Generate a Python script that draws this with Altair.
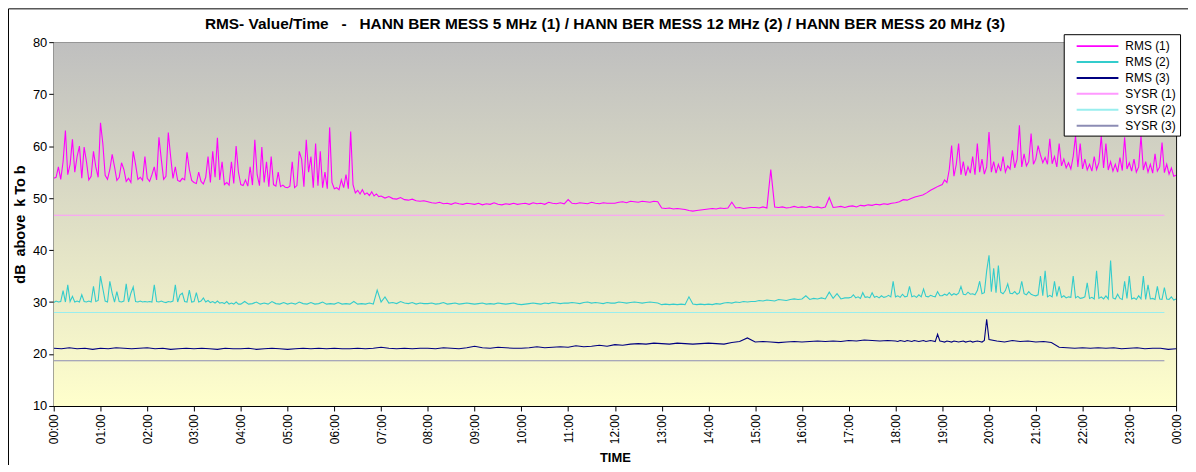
import altair as alt
import pandas as pd

# ---------------- data ----------------
SERIES = ["RMS (1)", "RMS (2)", "RMS (3)", "SYSR (1)", "SYSR (2)", "SYSR (3)"]
COLORS = ["#ff00ff", "#33cccc", "#000080", "#ff99ff", "#99eeee", "#8c8cb4"]

# RMS (1): one row per hour, samples evenly spaced inside the hour
RMS1_BY_HOUR = [
    [53.8, 54.0, 56.0, 53.6, 57.0, 63.0, 54.5, 56.5, 61.3, 55.0,
     58.0, 60.0, 53.8, 59.8, 57.0, 53.5, 54.2, 59.0, 56.0, 54.0],
    [64.5, 60.5, 54.4, 53.6, 55.5, 58.4, 56.0, 53.4, 54.0, 56.8,
     55.5, 53.2, 53.8, 53.0, 59.0, 56.5, 53.6, 54.0, 53.4, 58.0],
    [53.8, 53.2, 54.5, 56.0, 53.5, 61.7, 57.5, 53.6, 54.2, 62.6,
     58.0, 53.8, 56.0, 53.4, 53.2, 53.8, 53.5, 58.8, 55.5, 53.4],
    [53.0, 52.8, 55.0, 53.2, 52.7, 54.0, 58.0, 53.0, 59.0, 54.0,
     61.6, 53.5, 57.0, 52.6, 53.0, 52.5, 57.0, 52.8, 60.0, 55.0],
    [52.6, 52.4, 53.5, 52.3, 56.0, 52.5, 61.2, 54.5, 52.4, 59.8,
     53.0, 57.0, 52.2, 58.0, 52.6, 52.3, 55.0, 52.2, 52.5, 52.1],
    [52.0, 52.3, 57.0, 52.0, 52.4, 59.0, 57.5, 52.2, 61.2, 55.0,
     58.0, 52.0, 60.5, 52.4, 59.0, 52.0, 55.0, 51.8, 63.6, 53.0],
    [51.8, 52.0, 51.6, 53.5, 52.0, 54.5, 51.8, 62.8, 52.6, 51.0,
     51.5, 50.8, 51.6, 50.7, 51.0, 50.5, 51.2, 50.4, 50.8, 50.3],
    [50.4, 50.0, 50.3, 49.9, 49.8, 50.1, 49.7, 49.6, 49.8, 49.5, 49.4, 49.5],
    [49.3, 49.1, 49.0, 49.2, 48.9, 49.0, 48.8, 49.1, 48.9, 48.8, 49.0, 48.9],
    [48.8, 49.0, 48.7, 48.9, 48.8, 49.1, 48.8, 48.7, 48.9, 48.8, 49.0, 48.8],
    [48.9, 49.0, 48.8, 49.1, 48.9, 49.0, 48.8, 49.2, 49.0, 48.9, 49.1, 48.9],
    [49.7, 49.0, 48.9, 49.1, 49.0, 48.9, 49.2, 49.0, 48.9, 49.1, 49.0, 49.0],
    [49.0, 49.2, 49.3, 49.1, 49.4, 49.3, 49.2, 49.4, 49.3, 49.2, 49.4, 49.3],
    [48.1, 48.0, 48.1, 47.9, 48.0, 47.9, 47.8, 47.6, 47.5, 47.6, 47.7, 47.8],
    [47.9, 48.0, 47.9, 48.1, 48.0, 48.1, 49.2, 48.1, 48.2, 48.0, 48.1, 48.2],
    [48.2, 48.1, 48.3, 48.1, 55.5, 48.3, 48.2, 48.3, 48.1, 48.2, 48.4, 48.2],
    [48.3, 48.2, 48.4, 48.2, 48.3, 48.1, 48.3, 50.1, 48.2, 48.3, 48.4, 48.2],
    [48.4, 48.5, 48.3, 48.6, 48.5, 48.7, 48.6, 48.8, 48.7, 48.9, 48.8, 49.0],
    [49.1, 49.3, 49.7, 49.6, 49.9, 50.2, 50.4, 50.6, 51.0, 51.5, 51.9, 52.3],
    [52.6, 53.5, 53.0, 55.5, 60.1, 54.2, 56.5, 60.5, 54.5, 57.0,
     54.3, 56.0, 54.8, 58.0, 54.5, 60.5, 55.0, 57.5, 54.6, 56.0],
    [62.7, 55.0, 57.0, 54.8, 56.5, 55.2, 58.0, 55.0, 56.2, 55.6,
     59.2, 55.8, 57.5, 64.0, 56.0, 58.5, 56.2, 57.0, 62.4, 56.5],
    [57.5, 60.1, 58.3, 56.8, 57.8, 56.5, 61.4, 56.6, 58.0, 56.0,
     60.5, 56.2, 57.5, 55.8, 56.8, 55.6, 58.0, 62.0, 56.0, 60.5],
    [55.6, 57.5, 55.4, 56.5, 55.2, 58.0, 55.5, 56.8, 62.0, 55.8,
     60.5, 55.4, 57.0, 55.2, 56.5, 55.0, 57.8, 55.3, 61.7, 55.6],
    [56.8, 55.2, 57.5, 55.0, 56.0, 62.0, 55.4, 57.0, 55.0, 56.5,
     54.8, 58.5, 55.2, 56.0, 60.7, 54.9, 56.5, 54.6, 55.8, 54.2],
]
RMS1_END = 54.4

# RMS (2)
RMS2_BY_HOUR = [
    [29.9, 30.2, 30.0, 30.1, 32.2, 30.0, 33.3, 30.1, 31.1, 30.0,
     30.2, 30.0, 31.4, 30.1, 30.0, 30.2, 30.0, 33.0, 30.1, 30.3],
    [35.0, 32.6, 30.2, 30.0, 34.0, 31.7, 30.0, 32.0, 30.1, 30.0,
     30.2, 33.5, 30.0, 31.7, 32.9, 30.1, 30.0, 30.2, 30.0, 30.1],
    [30.0, 30.1, 30.0, 33.3, 30.1, 30.0, 30.2, 30.0, 29.9, 30.1,
     30.0, 30.2, 33.3, 30.0, 31.4, 31.7, 30.1, 30.0, 32.3, 30.0],
    [30.1, 31.8, 30.0, 30.2, 30.8, 30.0, 30.3, 29.9, 30.1, 29.8,
     30.2, 29.8, 29.9, 29.7, 30.1, 29.6, 29.8, 29.6, 30.0, 29.6],
    [29.6, 30.1, 29.6, 29.7, 30.0, 29.6, 29.8, 29.6, 30.1, 29.7, 29.6, 29.9],
    [29.6, 29.8, 29.6, 30.0, 29.7, 29.6, 29.9, 29.6, 29.7, 30.0, 29.6, 29.7],
    [29.6, 29.9, 29.6, 29.7, 29.6, 30.1, 29.6, 29.7, 29.6, 29.8, 29.6, 32.3],
    [30.0, 31.0, 29.8, 29.9, 29.7, 30.1, 29.8, 29.7, 29.9, 29.6, 29.8, 29.7],
    [29.7, 29.8, 29.6, 29.7, 29.9, 29.6, 29.7, 29.8, 29.6, 29.7, 29.8, 29.7],
    [29.6, 29.7, 29.8, 29.6, 29.7, 29.6, 29.8, 29.7, 29.6, 29.7, 29.8, 29.6],
    [29.5, 29.6, 29.7, 29.8, 29.7, 29.6, 29.8, 29.7, 29.9, 29.8, 29.7, 29.8],
    [29.8, 29.9, 29.8, 29.7, 29.9, 30.0, 29.8, 29.9, 29.8, 29.7, 29.9, 29.8],
    [29.8, 30.0, 29.9, 29.8, 29.9, 30.0, 29.9, 29.8, 29.9, 30.0, 29.9, 29.8],
    [29.5, 29.6, 29.5, 29.6, 29.5, 29.6, 29.5, 31.0, 29.6, 29.5, 29.6, 29.5],
    [29.6, 29.5, 29.7, 29.6, 29.8, 29.9, 29.8, 30.0, 29.9, 30.1, 30.0, 30.1],
    [30.1, 30.3, 30.2, 30.4, 30.3, 30.2, 30.5, 30.4, 30.3, 30.5, 30.6, 30.5],
    [30.6, 31.2, 30.5, 30.7, 30.6, 30.8, 30.6, 31.9, 30.7, 31.6, 30.6, 30.8],
    [30.8, 30.9, 31.4, 30.8, 31.0, 30.7, 31.8, 30.9, 31.0, 30.8,
     31.8, 30.9, 31.1, 30.8, 31.2, 30.9, 31.0, 31.3, 31.0, 34.0],
    [31.0, 31.2, 30.9, 31.5, 31.0, 31.1, 33.0, 31.0, 31.2, 30.9,
     31.4, 31.0, 32.5, 31.1, 31.0, 31.3, 31.1, 31.0, 32.0, 31.2],
    [31.2, 31.5, 31.3, 31.8, 31.3, 31.6, 31.4, 31.7, 33.0, 31.5,
     31.4, 31.9, 31.5, 31.6, 31.4, 32.2, 34.0, 31.6, 31.8, 36.0],
    [39.0, 32.0, 36.5, 31.8, 37.0, 31.9, 31.6, 32.2, 33.5, 31.7,
     31.6, 32.0, 31.5, 31.8, 34.0, 31.6, 31.4, 32.0, 31.5, 31.3],
    [31.2, 31.4, 35.0, 31.2, 36.0, 31.0, 31.3, 31.0, 34.0, 31.1,
     33.0, 30.9, 31.2, 30.8, 31.0, 30.9, 35.0, 30.8, 31.1, 30.7],
    [30.8, 31.0, 33.7, 30.7, 30.9, 30.6, 36.0, 30.7, 31.0, 30.6,
     31.2, 30.6, 38.0, 30.8, 30.6, 31.5, 30.7, 30.5, 34.0, 30.7],
    [35.0, 30.6, 30.8, 30.5, 31.2, 30.6, 35.0, 30.5, 33.3, 30.6,
     30.7, 30.5, 33.0, 30.6, 30.5, 32.8, 30.6, 30.5, 31.0, 30.4],
]
RMS2_END = 30.6

# RMS (3)
RMS3_BY_HOUR = [
    [21.1, 21.0, 21.2, 21.0, 21.1, 20.9],
    [21.1, 21.0, 21.2, 21.1, 21.0, 21.1],
    [21.2, 21.0, 21.1, 20.9, 21.0, 21.1],
    [21.0, 21.1, 21.0, 20.9, 21.1, 21.0],
    [21.0, 21.1, 20.9, 21.0, 21.1, 21.0],
    [20.9, 21.0, 21.1, 21.0, 21.1, 21.0],
    [21.1, 21.0, 21.0, 21.1, 21.0, 21.1],
    [21.3, 21.1, 21.0, 21.1, 21.0, 21.1],
    [21.1, 21.0, 21.2, 21.1, 21.0, 21.2],
    [21.5, 21.2, 21.1, 21.3, 21.2, 21.1],
    [21.1, 21.2, 21.4, 21.2, 21.3, 21.4],
    [21.3, 21.6, 21.4, 21.5, 21.7, 21.5],
    [21.8, 21.7, 21.9, 22.0, 21.9, 22.1],
    [22.0, 21.9, 22.1, 22.0, 21.9, 22.0],
    [22.1, 22.0, 21.9, 22.2, 22.4, 23.1],
    [22.3, 22.4, 22.3, 22.2, 22.3, 22.4],
    [22.3, 22.4, 22.5, 22.4, 22.5, 22.4],
    [22.6, 22.5, 22.7, 22.6, 22.5, 22.6],
    [22.5, 22.4, 22.6, 22.5, 22.4, 22.6, 22.5, 22.4, 22.6, 22.5,
     22.4, 22.5, 22.6, 22.4, 22.5, 22.6, 22.5, 22.4, 23.8, 22.5],
    [22.4, 22.3, 22.5, 22.4, 22.3, 22.5, 22.4, 22.3, 22.4, 22.5,
     22.3, 22.4, 22.5, 22.3, 22.4, 22.5, 22.4, 22.3, 22.6, 26.7],
    [22.8, 22.5, 22.3, 22.6, 22.4, 22.5],
    [22.3, 22.4, 22.2, 21.3, 21.2, 21.1],
    [21.2, 21.1, 21.2, 21.1, 21.2, 21.0],
    [21.1, 21.2, 21.0, 21.1, 21.1, 20.9],
]
RMS3_END = 21.0

# SYSR reference levels (constant), start/end hour
SYSR_LEVELS = [46.7, 28.0, 18.7]
SYSR_SPAN = [0.0, 23.75]

X_TICKS = list(range(25))
Y_TICKS = [10, 20, 30, 40, 50, 60, 70, 80]

NB = "\u00a0"
TITLE = ("RMS- Value/Time " + NB + NB + "-" + NB + NB + " HANN BER MESS 5 MHz (1) / HANN BER MESS 12 MHz (2) "
         "/ HANN BER MESS 20 MHz (3)")
Y_TITLE = "dB " + NB + "above " + NB + "k To b"

# ---------------- build table ----------------
rows = []

def add_series(name, by_hour, end_value):
    for h, vals in enumerate(by_hour):
        n = len(vals)
        for k, v in enumerate(vals):
            rows.append({"series": name, "t": h + k / n, "v": v})
    rows.append({"series": name, "t": 24.0, "v": end_value})

add_series("RMS (1)", RMS1_BY_HOUR, RMS1_END)
add_series("RMS (2)", RMS2_BY_HOUR, RMS2_END)
add_series("RMS (3)", RMS3_BY_HOUR, RMS3_END)
for name, lvl in zip(SERIES[3:], SYSR_LEVELS):
    for t in SYSR_SPAN:
        rows.append({"series": name, "t": t, "v": lvl})

df = pd.DataFrame(rows)

FONT = "Liberation Sans"
W, H = 1129, 366

x_enc = alt.X(
    "t:Q",
    scale=alt.Scale(domain=[0, 24], nice=False, zero=False),
    axis=alt.Axis(
        values=X_TICKS,
        labelExpr="(datum.value % 24 < 10 ? '0' : '') + (datum.value % 24) + ':00'",
        labelAngle=270,
        labelFontSize=12,
        labelPadding=3,
        tickSize=5,
        tickColor="black",
        domainColor="black",
        grid=False,
        title="TIME",
        titleFontSize=13,
        titleFontWeight="bold",
        titlePadding=8,
        labelColor="black",
        titleColor="black",
    ),
)
y_enc = alt.Y(
    "v:Q",
    scale=alt.Scale(domain=[10, 80], nice=False, zero=False),
    axis=alt.Axis(
        values=Y_TICKS,
        labelFontSize=13,
        labelPadding=2,
        tickSize=5,
        tickColor="black",
        domainColor="black",
        grid=True,
        gridColor="#1a1a1a",
        gridWidth=1,
        gridOpacity=1,
        title=Y_TITLE,
        titleFontSize=14.5,
        titleFontWeight="bold",
        titlePadding=5,
        labelColor="black",
        titleColor="black",
    ),
)

bg = alt.LinearGradient(
    gradient="linear",
    stops=[alt.GradientStop(color="#bfbfbf", offset=0),
           alt.GradientStop(color="#ffffcc", offset=1)],
    x1=0, x2=0, y1=0, y2=1,
)

background = alt.Chart(df.head(1)).mark_rect(color=bg).encode(
    x=alt.value(0), x2=alt.value(W), y=alt.value(0), y2=alt.value(H)
)

lines = alt.Chart(df).mark_line(strokeWidth=1.1, clip=True).encode(
    x=x_enc,
    y=y_enc,
    color=alt.Color(
        "series:N",
        scale=alt.Scale(domain=SERIES, range=COLORS),
        sort=SERIES,
        legend=alt.Legend(
            title=None,
            orient="none",
            legendX=1016,
            legendY=-8,
            fillColor="white",
            strokeColor="black",
            padding=4,
            labelFontSize=12,
            labelColor="black",
            symbolType="M-3,0L3,0",
            symbolSize=196,
            symbolStrokeWidth=2,
            symbolOffset=22,
            rowPadding=2,
            labelOffset=20,
        ),
    ),
    detail="series:N",
)

border_top = alt.Chart(df.head(1)).mark_rule(color="black", strokeWidth=1).encode(
    x=alt.value(-45.5), x2=alt.value(1200), y=alt.value(-33.5)
)
border_left = alt.Chart(df.head(1)).mark_rule(color="black", strokeWidth=1).encode(
    x=alt.value(-45.5), y=alt.value(-33.5), y2=alt.value(460)
)

chart = (
    alt.layer(background, lines, border_top, border_left)
    .properties(
        width=W,
        height=H,
        padding={"left": 46, "top": 33, "right": 12, "bottom": 58},
        autosize=alt.AutoSizeParams(type="none"),
        title=alt.Title(TITLE, fontSize=15.5, fontWeight="bold", anchor="middle",
                        frame="group", offset=-24, dx=-10, color="black", font=FONT),
    )
    .configure(font=FONT, background="white")
    .configure_view(stroke="black", strokeWidth=1)
    .configure_axis(labelFont=FONT, titleFont=FONT)
    .configure_legend(labelFont=FONT)
)

chart.save("out.html", embed_options={"renderer": "svg", "actions": False})
